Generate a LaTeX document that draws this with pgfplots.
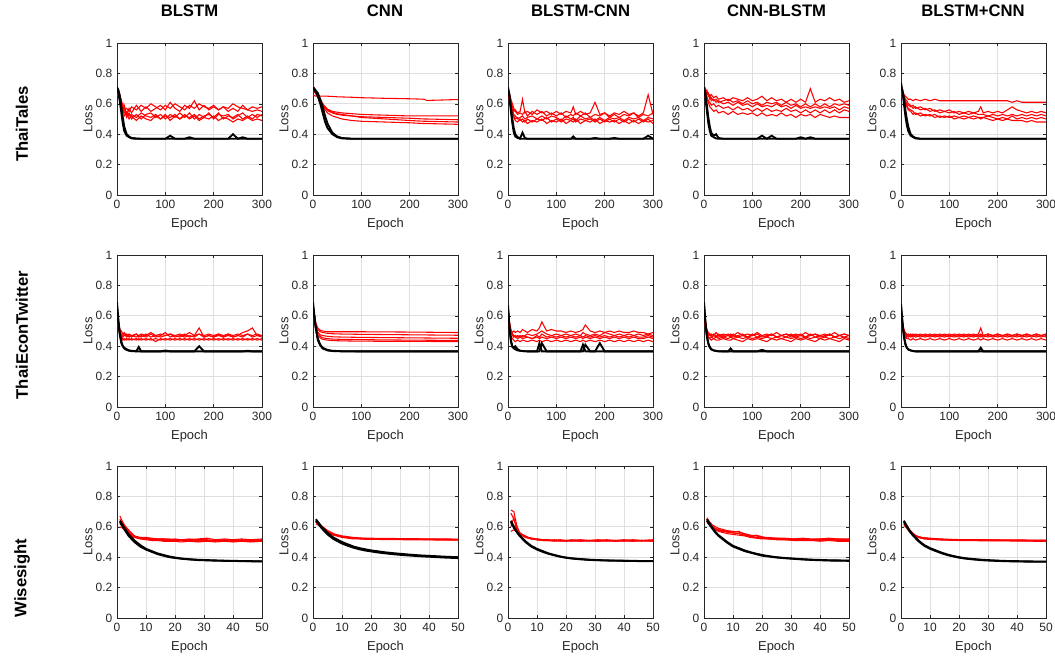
\documentclass[border=0pt]{standalone}
\usepackage{fontspec}
\setmainfont{Liberation Sans}
\usepackage{pgfplots}
\usepackage{pgfplotstable}
\pgfplotsset{compat=1.18}
\definecolor{axcol}{HTML}{262626}
\definecolor{gridcol}{HTML}{DFDFDF}

\pgfplotsset{
  panel/.style={
    scale only axis, width=108.75pt, height=114pt, anchor=south west,
    xmin=0, ymin=0, ymax=1,
    ytick={0,0.2,0.4,0.6,0.8,1}, yticklabels={0,0.2,0.4,0.6,0.8,1},
    axis line style={draw=axcol, line width=0.5pt},
    grid=major, major grid style={draw=gridcol, line width=0.45pt},
    tick style={draw=axcol, line width=0.4pt}, major tick length=2.2pt,
    tick align=inside,
    ticklabel style={font=\fontsize{9}{10}\selectfont, text=axcol},
    xlabel={Epoch}, ylabel={Loss},
    label style={font=\fontsize{9.7}{11}\selectfont, text=axcol},
    xlabel style={at={(axis description cs:0.5,-0.19)}, anchor=center},
    ylabel style={at={(axis description cs:-0.2,0.5)}, anchor=center},
  },
  long/.style={xmax=300, xtick={0,100,200,300}, xticklabels={0,100,200,300}},
  short/.style={xmax=50, xtick={0,10,20,30,40,50}, xticklabels={0,10,20,30,40,50}},
}

\newcommand{\panel}[4]{%
  \begin{axis}[panel,#4,at={(#1,#2)}]
    \pgfplotsinvokeforeach{r1,r2,r3,r4,r5}{\addplot[red,line width=0.8pt] table[x=x,y=##1]{#3};}
    \pgfplotsinvokeforeach{k1,k2}{\addplot[black,line width=1.4pt] table[x=x,y=##1]{#3};}
  \end{axis}}

% ThaiTales
\pgfplotstableread{
x r1 r2 r3 r4 r5 k1 k2
0 0.68 0.66 0.70 0.67 0.69 0.70 0.71
3 0.66 0.68 0.65 0.69 0.64 0.67 0.69
6 0.64 0.62 0.66 0.61 0.65 0.61 0.65
9 0.60 0.63 0.58 0.62 0.57 0.54 0.58
12 0.58 0.56 0.60 0.55 0.59 0.47 0.51
15 0.56 0.59 0.54 0.57 0.52 0.42 0.45
20 0.57 0.53 0.55 0.51 0.54 0.39 0.40
25 0.55 0.57 0.52 0.54 0.50 0.38 0.385
30 0.58 0.54 0.53 0.50 0.52 0.372 0.375
40 0.56 0.59 0.51 0.53 0.49 0.37 0.372
50 0.59 0.55 0.54 0.50 0.52 0.37 0.37
60 0.57 0.58 0.52 0.53 0.50 0.37 0.37
70 0.60 0.55 0.51 0.54 0.49 0.37 0.37
80 0.58 0.57 0.53 0.51 0.52 0.37 0.37
90 0.56 0.59 0.50 0.53 0.50 0.37 0.37
100 0.59 0.56 0.52 0.50 0.53 0.37 0.37
110 0.57 0.61 0.51 0.53 0.49 0.37 0.39
120 0.60 0.57 0.53 0.51 0.52 0.37 0.37
130 0.58 0.55 0.50 0.54 0.50 0.37 0.37
140 0.56 0.59 0.52 0.51 0.53 0.37 0.37
150 0.59 0.57 0.51 0.54 0.50 0.38 0.37
160 0.57 0.62 0.53 0.50 0.52 0.37 0.37
170 0.60 0.56 0.50 0.53 0.49 0.37 0.37
180 0.58 0.59 0.52 0.51 0.51 0.37 0.37
190 0.57 0.56 0.53 0.54 0.50 0.37 0.37
200 0.59 0.58 0.51 0.50 0.52 0.37 0.37
210 0.56 0.56 0.54 0.53 0.49 0.37 0.37
220 0.58 0.58 0.50 0.52 0.51 0.37 0.37
230 0.57 0.55 0.52 0.53 0.50 0.37 0.37
240 0.60 0.57 0.51 0.50 0.48 0.37 0.40
250 0.58 0.55 0.53 0.52 0.50 0.37 0.37
260 0.57 0.59 0.50 0.54 0.49 0.37 0.38
270 0.56 0.56 0.52 0.51 0.51 0.37 0.37
280 0.58 0.55 0.50 0.53 0.49 0.37 0.37
290 0.57 0.56 0.53 0.51 0.50 0.37 0.37
300 0.58 0.55 0.52 0.53 0.49 0.37 0.37
}\tTa
\pgfplotstableread{
x r1 r2 r3 r4 r5 k1 k2
0 0.66 0.72 0.70 0.69 0.71 0.70 0.71
5 0.65 0.69 0.68 0.67 0.69 0.68 0.69
10 0.65 0.66 0.65 0.64 0.66 0.65 0.67
15 0.65 0.63 0.62 0.61 0.63 0.60 0.63
20 0.65 0.60 0.59 0.58 0.60 0.54 0.58
25 0.65 0.58 0.57 0.56 0.58 0.48 0.52
30 0.65 0.565 0.555 0.54 0.56 0.44 0.47
40 0.648 0.55 0.54 0.52 0.545 0.40 0.41
50 0.646 0.545 0.53 0.51 0.535 0.38 0.385
60 0.645 0.54 0.525 0.50 0.53 0.372 0.375
80 0.643 0.535 0.52 0.49 0.52 0.37 0.37
100 0.640 0.53 0.515 0.485 0.51 0.37 0.37
150 0.636 0.525 0.51 0.48 0.50 0.37 0.37
200 0.633 0.52 0.505 0.475 0.49 0.37 0.37
230 0.630 0.52 0.50 0.47 0.485 0.37 0.37
235 0.622 0.52 0.50 0.47 0.485 0.37 0.37
300 0.628 0.52 0.495 0.465 0.48 0.37 0.37
}\tTb
\pgfplotstableread{
x r1 r2 r3 r4 r5 k1 k2
0 0.70 0.68 0.66 0.71 0.67 0.71 0.70
3 0.66 0.65 0.62 0.67 0.63 0.64 0.66
6 0.62 0.60 0.58 0.63 0.59 0.55 0.58
9 0.58 0.56 0.55 0.60 0.54 0.47 0.50
12 0.55 0.53 0.52 0.57 0.51 0.41 0.44
15 0.56 0.52 0.50 0.55 0.49 0.385 0.40
20 0.54 0.50 0.51 0.53 0.48 0.375 0.38
25 0.55 0.51 0.49 0.54 0.50 0.37 0.372
30 0.63 0.52 0.50 0.53 0.48 0.37 0.41
35 0.54 0.50 0.48 0.55 0.49 0.37 0.375
40 0.55 0.51 0.50 0.52 0.47 0.37 0.37
50 0.53 0.52 0.48 0.55 0.49 0.37 0.37
60 0.56 0.50 0.50 0.53 0.48 0.37 0.37
70 0.54 0.52 0.49 0.55 0.50 0.37 0.37
80 0.55 0.50 0.51 0.52 0.47 0.37 0.37
90 0.53 0.52 0.48 0.54 0.49 0.37 0.37
100 0.55 0.51 0.50 0.52 0.48 0.37 0.37
110 0.53 0.49 0.48 0.54 0.50 0.37 0.37
120 0.55 0.52 0.50 0.51 0.47 0.37 0.37
130 0.54 0.50 0.49 0.53 0.49 0.37 0.37
135 0.58 0.51 0.50 0.52 0.48 0.37 0.385
140 0.53 0.49 0.48 0.54 0.50 0.37 0.37
150 0.55 0.52 0.50 0.52 0.47 0.37 0.37
160 0.53 0.50 0.49 0.54 0.49 0.37 0.37
170 0.54 0.51 0.50 0.51 0.48 0.37 0.37
180 0.61 0.49 0.48 0.53 0.50 0.37 0.375
190 0.53 0.51 0.50 0.52 0.47 0.37 0.37
200 0.54 0.49 0.48 0.54 0.49 0.37 0.37
210 0.52 0.51 0.50 0.51 0.48 0.37 0.37
220 0.54 0.50 0.48 0.53 0.49 0.37 0.375
230 0.53 0.51 0.50 0.51 0.47 0.37 0.37
240 0.55 0.49 0.48 0.53 0.49 0.37 0.37
250 0.53 0.51 0.50 0.52 0.47 0.37 0.37
260 0.54 0.50 0.48 0.54 0.49 0.37 0.37
270 0.52 0.51 0.50 0.51 0.47 0.37 0.37
280 0.54 0.49 0.48 0.53 0.49 0.37 0.37
290 0.66 0.51 0.50 0.52 0.48 0.37 0.39
300 0.53 0.50 0.47 0.54 0.49 0.37 0.37
}\tTc
\pgfplotstableread{
x r1 r2 r3 r4 r5 k1 k2
0 0.70 0.68 0.66 0.71 0.64 0.71 0.70
3 0.69 0.70 0.67 0.68 0.66 0.64 0.67
6 0.68 0.66 0.65 0.69 0.63 0.55 0.59
9 0.66 0.67 0.62 0.65 0.61 0.47 0.51
12 0.65 0.63 0.61 0.66 0.58 0.42 0.45
15 0.66 0.64 0.59 0.62 0.57 0.39 0.41
20 0.64 0.62 0.60 0.63 0.55 0.38 0.39
25 0.65 0.63 0.58 0.61 0.56 0.372 0.40
30 0.63 0.61 0.59 0.62 0.54 0.37 0.375
40 0.64 0.62 0.57 0.60 0.55 0.37 0.37
50 0.62 0.63 0.58 0.61 0.53 0.37 0.37
60 0.64 0.61 0.56 0.59 0.55 0.37 0.37
70 0.63 0.62 0.58 0.61 0.53 0.37 0.37
80 0.62 0.60 0.56 0.59 0.54 0.37 0.37
90 0.64 0.62 0.57 0.60 0.53 0.37 0.37
100 0.62 0.60 0.55 0.58 0.54 0.37 0.37
110 0.63 0.61 0.57 0.60 0.52 0.37 0.37
120 0.65 0.59 0.55 0.58 0.54 0.37 0.39
130 0.62 0.61 0.57 0.59 0.52 0.37 0.37
140 0.64 0.60 0.55 0.58 0.53 0.37 0.39
150 0.62 0.61 0.56 0.60 0.52 0.37 0.37
160 0.63 0.59 0.55 0.58 0.54 0.37 0.37
170 0.61 0.61 0.57 0.59 0.52 0.37 0.37
180 0.63 0.59 0.55 0.57 0.53 0.37 0.37
190 0.61 0.60 0.56 0.59 0.51 0.37 0.37
200 0.63 0.58 0.54 0.57 0.53 0.37 0.38
210 0.61 0.60 0.56 0.58 0.52 0.37 0.37
220 0.70 0.58 0.54 0.57 0.53 0.37 0.38
230 0.61 0.60 0.56 0.58 0.51 0.37 0.37
240 0.63 0.58 0.54 0.57 0.53 0.37 0.37
250 0.62 0.60 0.56 0.58 0.52 0.37 0.37
260 0.64 0.58 0.54 0.57 0.51 0.37 0.37
270 0.62 0.60 0.56 0.58 0.52 0.37 0.37
280 0.63 0.59 0.54 0.56 0.51 0.37 0.37
290 0.61 0.60 0.56 0.58 0.51 0.37 0.37
300 0.62 0.59 0.55 0.57 0.51 0.37 0.37
}\tTd
\pgfplotstableread{
x r1 r2 r3 r4 r5 k1 k2
0 0.68 0.66 0.70 0.64 0.67 0.74 0.71
3 0.67 0.66 0.68 0.65 0.66 0.68 0.69
6 0.66 0.64 0.66 0.62 0.64 0.60 0.64
9 0.65 0.62 0.63 0.60 0.61 0.52 0.56
12 0.64 0.60 0.62 0.58 0.59 0.46 0.50
15 0.63 0.59 0.60 0.56 0.57 0.42 0.45
20 0.63 0.58 0.59 0.55 0.56 0.39 0.40
25 0.62 0.59 0.57 0.53 0.55 0.38 0.385
30 0.63 0.57 0.58 0.54 0.53 0.372 0.375
40 0.62 0.58 0.56 0.52 0.54 0.37 0.37
50 0.63 0.56 0.57 0.53 0.52 0.37 0.37
60 0.62 0.57 0.55 0.52 0.53 0.37 0.37
70 0.63 0.55 0.56 0.53 0.51 0.37 0.37
80 0.62 0.56 0.54 0.51 0.52 0.37 0.37
90 0.62 0.55 0.55 0.52 0.51 0.37 0.37
100 0.62 0.56 0.54 0.51 0.52 0.37 0.37
110 0.62 0.54 0.55 0.52 0.50 0.37 0.37
120 0.62 0.55 0.53 0.51 0.51 0.37 0.37
130 0.62 0.54 0.54 0.52 0.50 0.37 0.37
140 0.62 0.55 0.53 0.51 0.51 0.37 0.37
150 0.62 0.54 0.54 0.52 0.50 0.37 0.37
160 0.62 0.55 0.53 0.51 0.51 0.37 0.37
165 0.62 0.58 0.53 0.51 0.50 0.37 0.37
170 0.62 0.54 0.53 0.51 0.51 0.37 0.37
180 0.62 0.55 0.52 0.52 0.50 0.37 0.37
190 0.62 0.54 0.53 0.51 0.49 0.37 0.37
200 0.62 0.55 0.52 0.50 0.50 0.37 0.37
210 0.62 0.54 0.53 0.51 0.49 0.37 0.37
220 0.62 0.56 0.52 0.50 0.50 0.37 0.37
230 0.61 0.58 0.53 0.52 0.49 0.37 0.37
240 0.62 0.56 0.52 0.50 0.49 0.37 0.37
250 0.61 0.55 0.53 0.51 0.49 0.37 0.37
260 0.61 0.54 0.52 0.50 0.48 0.37 0.37
270 0.61 0.55 0.53 0.51 0.49 0.37 0.37
280 0.61 0.54 0.52 0.50 0.48 0.37 0.37
290 0.61 0.55 0.53 0.51 0.48 0.37 0.37
300 0.61 0.54 0.52 0.50 0.48 0.37 0.37
}\tTe

% ThaiEconTwitter
\pgfplotstableread{
x r1 r2 r3 r4 r5 k1 k2
0 0.62 0.60 0.61 0.59 0.63 0.69 0.66
3 0.55 0.54 0.53 0.52 0.56 0.57 0.55
6 0.50 0.49 0.48 0.47 0.51 0.48 0.47
9 0.48 0.47 0.46 0.45 0.50 0.43 0.42
12 0.47 0.46 0.45 0.44 0.48 0.40 0.40
15 0.48 0.47 0.44 0.45 0.49 0.385 0.39
20 0.46 0.48 0.45 0.44 0.47 0.375 0.38
25 0.47 0.46 0.44 0.45 0.48 0.37 0.372
30 0.46 0.47 0.45 0.44 0.47 0.367 0.37
40 0.48 0.46 0.44 0.45 0.48 0.366 0.367
45 0.46 0.47 0.45 0.44 0.47 0.366 0.395
50 0.47 0.46 0.44 0.45 0.48 0.366 0.366
60 0.46 0.48 0.45 0.44 0.47 0.366 0.366
70 0.48 0.46 0.44 0.45 0.49 0.366 0.366
80 0.46 0.47 0.45 0.43 0.47 0.366 0.366
90 0.47 0.46 0.44 0.45 0.48 0.366 0.366
100 0.49 0.47 0.45 0.44 0.47 0.366 0.372
110 0.46 0.48 0.44 0.45 0.48 0.366 0.366
120 0.47 0.46 0.45 0.44 0.47 0.366 0.366
130 0.46 0.47 0.44 0.45 0.48 0.366 0.366
140 0.48 0.46 0.45 0.44 0.47 0.366 0.366
150 0.46 0.47 0.44 0.45 0.49 0.366 0.366
160 0.47 0.46 0.45 0.44 0.47 0.366 0.366
170 0.52 0.48 0.44 0.45 0.48 0.366 0.40
180 0.46 0.46 0.45 0.44 0.47 0.366 0.366
190 0.47 0.47 0.44 0.45 0.48 0.366 0.366
200 0.46 0.46 0.45 0.44 0.47 0.366 0.366
210 0.48 0.47 0.44 0.45 0.48 0.366 0.366
220 0.46 0.46 0.45 0.44 0.47 0.366 0.366
230 0.47 0.48 0.44 0.45 0.48 0.366 0.366
240 0.46 0.46 0.45 0.44 0.47 0.366 0.366
250 0.47 0.47 0.44 0.45 0.48 0.366 0.366
260 0.46 0.49 0.45 0.44 0.47 0.366 0.366
270 0.48 0.50 0.44 0.45 0.48 0.366 0.37
280 0.46 0.52 0.45 0.44 0.47 0.366 0.366
290 0.47 0.47 0.44 0.45 0.48 0.366 0.366
300 0.46 0.47 0.45 0.44 0.47 0.366 0.366
}\tEa
\pgfplotstableread{
x r1 r2 r3 r4 r5 k1 k2
0 0.68 0.66 0.65 0.67 0.64 0.69 0.66
3 0.60 0.59 0.57 0.58 0.56 0.60 0.58
6 0.55 0.54 0.52 0.53 0.51 0.52 0.51
10 0.52 0.51 0.49 0.49 0.47 0.45 0.44
15 0.505 0.495 0.475 0.465 0.455 0.41 0.405
20 0.50 0.49 0.47 0.455 0.445 0.39 0.385
30 0.495 0.485 0.465 0.45 0.44 0.375 0.372
40 0.495 0.482 0.462 0.447 0.437 0.37 0.368
60 0.495 0.48 0.46 0.445 0.435 0.367 0.366
100 0.495 0.478 0.458 0.443 0.433 0.366 0.366
200 0.493 0.475 0.455 0.44 0.432 0.366 0.366
300 0.49 0.472 0.452 0.438 0.43 0.366 0.366
}\tEb
\pgfplotstableread{
x r1 r2 r3 r4 r5 k1 k2
0 0.66 0.62 0.64 0.60 0.63 0.67 0.65
3 0.56 0.54 0.55 0.52 0.55 0.53 0.52
6 0.51 0.49 0.50 0.47 0.50 0.44 0.43
9 0.49 0.47 0.48 0.45 0.48 0.40 0.395
12 0.50 0.46 0.47 0.44 0.47 0.39 0.385
15 0.49 0.47 0.46 0.43 0.46 0.40 0.38
20 0.50 0.46 0.47 0.44 0.45 0.38 0.372
25 0.49 0.47 0.46 0.43 0.46 0.37 0.37
30 0.51 0.46 0.47 0.44 0.45 0.368 0.368
40 0.49 0.48 0.46 0.43 0.46 0.366 0.366
50 0.51 0.47 0.45 0.44 0.45 0.366 0.366
60 0.50 0.48 0.47 0.43 0.46 0.366 0.366
65 0.52 0.49 0.46 0.44 0.45 0.42 0.366
70 0.56 0.50 0.48 0.43 0.46 0.366 0.42
80 0.50 0.48 0.46 0.44 0.45 0.366 0.366
90 0.51 0.47 0.47 0.43 0.46 0.366 0.366
100 0.50 0.48 0.46 0.44 0.45 0.366 0.366
110 0.50 0.47 0.47 0.43 0.46 0.366 0.366
120 0.49 0.48 0.46 0.44 0.45 0.366 0.366
130 0.50 0.47 0.47 0.43 0.46 0.366 0.366
140 0.49 0.48 0.46 0.44 0.45 0.366 0.366
150 0.50 0.47 0.47 0.43 0.46 0.366 0.366
155 0.51 0.49 0.46 0.44 0.45 0.41 0.366
160 0.54 0.48 0.47 0.43 0.46 0.366 0.41
170 0.50 0.47 0.46 0.44 0.45 0.366 0.366
180 0.49 0.48 0.47 0.43 0.46 0.366 0.366
190 0.50 0.47 0.46 0.44 0.45 0.42 0.366
200 0.49 0.49 0.47 0.43 0.46 0.366 0.366
210 0.50 0.48 0.46 0.44 0.45 0.366 0.366
220 0.49 0.47 0.47 0.43 0.46 0.366 0.366
230 0.50 0.48 0.46 0.44 0.45 0.366 0.366
240 0.49 0.47 0.47 0.43 0.46 0.366 0.366
250 0.49 0.48 0.46 0.44 0.45 0.366 0.366
260 0.50 0.47 0.47 0.43 0.46 0.366 0.366
270 0.49 0.48 0.46 0.44 0.45 0.366 0.366
280 0.49 0.47 0.46 0.43 0.45 0.366 0.366
290 0.48 0.48 0.47 0.44 0.46 0.366 0.366
300 0.49 0.47 0.46 0.43 0.45 0.366 0.366
}\tEc
\pgfplotstableread{
x r1 r2 r3 r4 r5 k1 k2
0 0.63 0.61 0.62 0.60 0.64 0.69 0.67
3 0.55 0.54 0.53 0.52 0.56 0.56 0.55
6 0.50 0.49 0.48 0.47 0.51 0.47 0.46
9 0.48 0.47 0.46 0.46 0.49 0.42 0.415
12 0.47 0.48 0.45 0.45 0.48 0.395 0.39
15 0.48 0.46 0.46 0.44 0.47 0.38 0.38
20 0.47 0.47 0.45 0.45 0.48 0.372 0.372
25 0.49 0.46 0.46 0.44 0.47 0.368 0.37
30 0.47 0.48 0.45 0.44 0.46 0.366 0.367
40 0.48 0.46 0.46 0.45 0.47 0.366 0.366
50 0.47 0.47 0.45 0.44 0.48 0.366 0.366
55 0.48 0.46 0.46 0.44 0.47 0.366 0.385
60 0.47 0.48 0.45 0.45 0.46 0.366 0.366
70 0.49 0.46 0.46 0.44 0.47 0.366 0.366
80 0.47 0.47 0.45 0.43 0.48 0.366 0.366
90 0.48 0.46 0.46 0.45 0.46 0.366 0.366
100 0.47 0.48 0.45 0.44 0.47 0.366 0.366
110 0.49 0.46 0.46 0.45 0.48 0.366 0.366
120 0.47 0.47 0.45 0.44 0.46 0.366 0.376
130 0.48 0.46 0.46 0.43 0.47 0.366 0.366
140 0.47 0.48 0.45 0.45 0.48 0.366 0.366
150 0.49 0.46 0.46 0.44 0.46 0.366 0.366
160 0.47 0.47 0.45 0.45 0.47 0.366 0.366
170 0.48 0.46 0.46 0.44 0.48 0.366 0.366
180 0.47 0.48 0.45 0.43 0.46 0.366 0.366
190 0.48 0.46 0.46 0.45 0.47 0.366 0.366
200 0.47 0.47 0.45 0.44 0.48 0.366 0.366
210 0.49 0.46 0.46 0.45 0.46 0.366 0.366
220 0.47 0.48 0.45 0.44 0.47 0.366 0.366
230 0.48 0.46 0.46 0.43 0.48 0.366 0.366
240 0.47 0.47 0.45 0.45 0.46 0.366 0.366
250 0.48 0.46 0.46 0.44 0.47 0.366 0.366
260 0.47 0.48 0.45 0.45 0.48 0.366 0.366
270 0.49 0.46 0.46 0.44 0.46 0.366 0.366
280 0.47 0.47 0.45 0.43 0.47 0.366 0.366
290 0.48 0.46 0.46 0.45 0.48 0.366 0.366
300 0.47 0.47 0.45 0.44 0.47 0.366 0.366
}\tEd
\pgfplotstableread{
x r1 r2 r3 r4 r5 k1 k2
0 0.62 0.61 0.60 0.63 0.62 0.68 0.66
3 0.55 0.54 0.53 0.55 0.56 0.56 0.55
6 0.50 0.49 0.48 0.50 0.51 0.47 0.46
9 0.48 0.47 0.46 0.48 0.49 0.42 0.41
12 0.47 0.46 0.45 0.47 0.48 0.39 0.39
15 0.48 0.47 0.45 0.46 0.47 0.38 0.378
20 0.47 0.46 0.44 0.47 0.48 0.372 0.372
25 0.48 0.47 0.45 0.46 0.47 0.368 0.368
30 0.47 0.46 0.44 0.47 0.48 0.366 0.366
40 0.48 0.47 0.45 0.46 0.47 0.366 0.366
50 0.47 0.46 0.44 0.47 0.48 0.366 0.366
60 0.48 0.47 0.45 0.46 0.47 0.366 0.366
70 0.47 0.46 0.44 0.47 0.48 0.366 0.366
80 0.48 0.47 0.45 0.46 0.47 0.366 0.366
90 0.47 0.46 0.44 0.47 0.48 0.366 0.366
100 0.48 0.47 0.45 0.46 0.47 0.366 0.366
110 0.47 0.46 0.44 0.47 0.48 0.366 0.366
120 0.48 0.47 0.45 0.46 0.47 0.366 0.366
130 0.47 0.46 0.44 0.47 0.48 0.366 0.366
140 0.48 0.47 0.45 0.46 0.47 0.366 0.366
150 0.47 0.46 0.44 0.47 0.48 0.366 0.366
160 0.48 0.47 0.45 0.46 0.47 0.366 0.366
165 0.52 0.46 0.44 0.47 0.48 0.366 0.39
170 0.47 0.47 0.45 0.46 0.47 0.366 0.366
180 0.48 0.46 0.44 0.47 0.48 0.366 0.366
190 0.47 0.47 0.45 0.46 0.47 0.366 0.366
200 0.48 0.46 0.44 0.47 0.48 0.366 0.366
210 0.47 0.47 0.45 0.46 0.47 0.366 0.366
220 0.48 0.46 0.44 0.47 0.48 0.366 0.366
230 0.47 0.47 0.45 0.46 0.47 0.366 0.366
240 0.48 0.46 0.44 0.47 0.48 0.366 0.366
250 0.47 0.47 0.45 0.46 0.47 0.366 0.366
260 0.48 0.46 0.44 0.47 0.48 0.366 0.366
270 0.47 0.47 0.45 0.46 0.47 0.366 0.366
280 0.48 0.46 0.44 0.47 0.48 0.366 0.366
290 0.47 0.47 0.45 0.46 0.47 0.366 0.366
300 0.48 0.46 0.44 0.47 0.48 0.366 0.366
}\tEe

% Wisesight
\pgfplotstableread{
x r1 r2 r3 r4 r5 k1 k2
1 0.67 0.62 0.64 0.60 0.65 0.63 0.64
2 0.63 0.61 0.62 0.59 0.62 0.60 0.61
3 0.60 0.58 0.59 0.57 0.60 0.57 0.58
4 0.57 0.56 0.57 0.55 0.58 0.54 0.55
5 0.55 0.54 0.55 0.54 0.56 0.52 0.53
6 0.54 0.53 0.54 0.53 0.54 0.50 0.51
7 0.53 0.53 0.535 0.525 0.53 0.485 0.495
8 0.53 0.525 0.53 0.52 0.525 0.47 0.48
10 0.525 0.52 0.53 0.515 0.52 0.45 0.455
12 0.52 0.515 0.525 0.51 0.52 0.435 0.44
14 0.52 0.515 0.52 0.51 0.515 0.42 0.425
16 0.52 0.51 0.52 0.505 0.515 0.41 0.415
18 0.515 0.51 0.52 0.505 0.51 0.40 0.405
20 0.52 0.51 0.515 0.505 0.51 0.395 0.398
22 0.515 0.51 0.515 0.50 0.51 0.39 0.392
25 0.52 0.505 0.515 0.505 0.51 0.385 0.387
28 0.515 0.51 0.52 0.50 0.505 0.381 0.383
31 0.515 0.505 0.525 0.505 0.51 0.379 0.381
34 0.51 0.51 0.515 0.50 0.505 0.377 0.379
37 0.515 0.505 0.52 0.505 0.51 0.376 0.377
40 0.51 0.505 0.515 0.50 0.505 0.375 0.376
43 0.515 0.51 0.52 0.505 0.51 0.374 0.375
46 0.51 0.505 0.515 0.50 0.505 0.373 0.374
50 0.515 0.51 0.52 0.505 0.51 0.372 0.373
}\tWa
\pgfplotstableread{
x r1 r2 r3 r4 r5 k1 k2
1 0.63 0.64 0.62 0.63 0.64 0.65 0.64
2 0.615 0.625 0.61 0.615 0.62 0.625 0.615
3 0.60 0.605 0.595 0.60 0.60 0.60 0.59
4 0.585 0.59 0.58 0.585 0.59 0.58 0.57
5 0.57 0.575 0.565 0.57 0.575 0.56 0.55
6 0.56 0.565 0.555 0.56 0.565 0.545 0.535
7 0.55 0.555 0.545 0.55 0.555 0.53 0.52
8 0.545 0.55 0.54 0.545 0.545 0.52 0.51
10 0.535 0.54 0.53 0.535 0.535 0.50 0.49
12 0.53 0.535 0.525 0.53 0.53 0.485 0.475
14 0.525 0.53 0.52 0.525 0.525 0.47 0.462
16 0.523 0.527 0.52 0.522 0.525 0.46 0.452
18 0.522 0.525 0.518 0.52 0.523 0.452 0.444
20 0.52 0.525 0.517 0.52 0.522 0.445 0.438
22 0.52 0.524 0.517 0.519 0.522 0.44 0.432
25 0.519 0.523 0.516 0.519 0.521 0.432 0.425
28 0.519 0.523 0.516 0.518 0.521 0.426 0.419
31 0.518 0.522 0.515 0.518 0.52 0.421 0.414
34 0.518 0.522 0.515 0.517 0.52 0.416 0.41
37 0.517 0.521 0.514 0.517 0.519 0.412 0.406
40 0.517 0.521 0.514 0.516 0.519 0.409 0.403
43 0.516 0.52 0.513 0.516 0.518 0.406 0.40
46 0.516 0.52 0.513 0.515 0.518 0.403 0.397
50 0.515 0.519 0.512 0.515 0.517 0.40 0.394
}\tWb
\pgfplotstableread{
x r1 r2 r3 r4 r5 k1 k2
1 0.71 0.69 0.57 0.60 0.62 0.64 0.63
2 0.70 0.65 0.58 0.66 0.61 0.60 0.595
3 0.61 0.60 0.57 0.58 0.58 0.57 0.565
4 0.56 0.56 0.555 0.56 0.56 0.545 0.54
5 0.545 0.55 0.54 0.545 0.545 0.525 0.52
6 0.535 0.54 0.53 0.535 0.535 0.505 0.50
7 0.53 0.53 0.525 0.53 0.525 0.49 0.485
8 0.525 0.525 0.52 0.525 0.52 0.475 0.47
10 0.52 0.52 0.515 0.515 0.515 0.455 0.45
12 0.515 0.515 0.51 0.515 0.51 0.44 0.435
14 0.515 0.51 0.51 0.51 0.51 0.425 0.422
16 0.51 0.515 0.505 0.51 0.51 0.415 0.412
18 0.515 0.51 0.51 0.505 0.51 0.405 0.403
20 0.51 0.51 0.505 0.51 0.505 0.398 0.396
22 0.51 0.515 0.51 0.505 0.51 0.393 0.391
25 0.515 0.51 0.505 0.51 0.505 0.388 0.386
28 0.51 0.51 0.51 0.505 0.51 0.384 0.382
31 0.51 0.515 0.505 0.51 0.505 0.381 0.38
34 0.515 0.51 0.51 0.505 0.51 0.379 0.378
37 0.51 0.51 0.505 0.51 0.505 0.378 0.377
40 0.51 0.515 0.51 0.505 0.51 0.377 0.376
43 0.515 0.51 0.505 0.51 0.505 0.376 0.375
46 0.51 0.51 0.51 0.505 0.51 0.375 0.374
50 0.51 0.515 0.505 0.51 0.505 0.375 0.374
}\tWc
\pgfplotstableread{
x r1 r2 r3 r4 r5 k1 k2
1 0.66 0.65 0.64 0.65 0.63 0.64 0.65
2 0.63 0.62 0.61 0.62 0.61 0.61 0.62
3 0.61 0.60 0.595 0.60 0.59 0.585 0.59
4 0.60 0.59 0.585 0.585 0.58 0.56 0.565
5 0.59 0.58 0.575 0.58 0.57 0.54 0.545
6 0.585 0.58 0.57 0.575 0.565 0.525 0.53
7 0.58 0.575 0.57 0.57 0.56 0.51 0.515
8 0.575 0.57 0.565 0.565 0.555 0.495 0.50
10 0.57 0.565 0.56 0.56 0.55 0.47 0.475
12 0.565 0.57 0.555 0.555 0.545 0.455 0.46
14 0.555 0.55 0.545 0.545 0.54 0.44 0.445
16 0.545 0.54 0.54 0.535 0.53 0.43 0.433
18 0.54 0.545 0.53 0.53 0.525 0.42 0.423
20 0.53 0.535 0.525 0.525 0.52 0.41 0.415
22 0.53 0.525 0.525 0.52 0.52 0.405 0.408
25 0.525 0.525 0.52 0.52 0.515 0.398 0.40
28 0.52 0.525 0.52 0.515 0.515 0.393 0.395
31 0.52 0.52 0.515 0.515 0.51 0.389 0.391
34 0.52 0.525 0.515 0.515 0.51 0.385 0.387
37 0.515 0.52 0.515 0.51 0.51 0.382 0.384
40 0.52 0.52 0.51 0.515 0.505 0.38 0.382
43 0.515 0.525 0.515 0.51 0.51 0.378 0.38
46 0.52 0.52 0.51 0.515 0.505 0.377 0.379
50 0.515 0.52 0.51 0.51 0.505 0.376 0.378
}\tWd
\pgfplotstableread{
x r1 r2 r3 r4 r5 k1 k2
1 0.63 0.62 0.64 0.61 0.62 0.64 0.63
2 0.60 0.595 0.61 0.59 0.60 0.605 0.60
3 0.575 0.57 0.58 0.565 0.575 0.575 0.57
4 0.555 0.55 0.56 0.545 0.555 0.55 0.545
5 0.54 0.54 0.545 0.535 0.54 0.53 0.525
6 0.535 0.53 0.535 0.53 0.535 0.51 0.505
7 0.53 0.525 0.53 0.525 0.53 0.495 0.49
8 0.527 0.523 0.528 0.52 0.525 0.48 0.475
10 0.523 0.52 0.525 0.517 0.52 0.46 0.455
12 0.52 0.518 0.522 0.515 0.518 0.445 0.44
14 0.518 0.515 0.52 0.513 0.516 0.43 0.426
16 0.517 0.514 0.518 0.512 0.515 0.418 0.414
18 0.516 0.513 0.517 0.511 0.514 0.408 0.405
20 0.515 0.512 0.516 0.51 0.513 0.40 0.397
22 0.515 0.512 0.516 0.51 0.513 0.394 0.391
25 0.514 0.511 0.515 0.509 0.512 0.388 0.385
28 0.514 0.511 0.515 0.508 0.512 0.383 0.38
31 0.513 0.51 0.514 0.508 0.511 0.38 0.377
34 0.513 0.51 0.514 0.507 0.511 0.377 0.375
37 0.512 0.509 0.513 0.507 0.511 0.375 0.373
40 0.512 0.509 0.513 0.506 0.51 0.374 0.372
43 0.511 0.508 0.513 0.506 0.51 0.373 0.371
46 0.511 0.508 0.512 0.505 0.51 0.372 0.37
50 0.51 0.508 0.512 0.505 0.51 0.372 0.37
}\tWe

\begin{document}
\begin{tikzpicture}
\path[use as bounding box] (0,0) rectangle (791.25pt,492pt);
\tikzset{ttl/.style={font=\fontsize{12.5}{14}\selectfont\bfseries, text=black}}
% column titles
\node[ttl] at (142.1pt,483.75pt) {BLSTM};
\node[ttl] at (288.75pt,483.75pt) {CNN};
\node[ttl] at (435.4pt,483.75pt) {BLSTM-CNN};
\node[ttl] at (582.4pt,483.75pt) {CNN-BLSTM};
\node[ttl] at (729.75pt,483.75pt) {BLSTM+CNN};
% row titles
\node[ttl,rotate=90] at (16.5pt,399pt) {ThaiTales};
\node[ttl,rotate=90] at (16.5pt,240.75pt) {ThaiEconTwitter};
\node[ttl,rotate=90] at (16.5pt,58.5pt) {Wisesight};
% panels
\panel{87.75pt}{345.75pt}{\tTa}{long}
\panel{234.75pt}{345.75pt}{\tTb}{long}
\panel{381pt}{345.75pt}{\tTc}{long}
\panel{528pt}{345.75pt}{\tTd}{long}
\panel{675.75pt}{345.75pt}{\tTe}{long}
\panel{87.75pt}{186.75pt}{\tEa}{long}
\panel{234.75pt}{186.75pt}{\tEb}{long}
\panel{381pt}{186.75pt}{\tEc}{long}
\panel{528pt}{186.75pt}{\tEd}{long}
\panel{675.75pt}{186.75pt}{\tEe}{long}
\panel{87.75pt}{28.5pt}{\tWa}{short}
\panel{234.75pt}{28.5pt}{\tWb}{short}
\panel{381pt}{28.5pt}{\tWc}{short}
\panel{528pt}{28.5pt}{\tWd}{short}
\panel{675.75pt}{28.5pt}{\tWe}{short}
\end{tikzpicture}
\end{document}
